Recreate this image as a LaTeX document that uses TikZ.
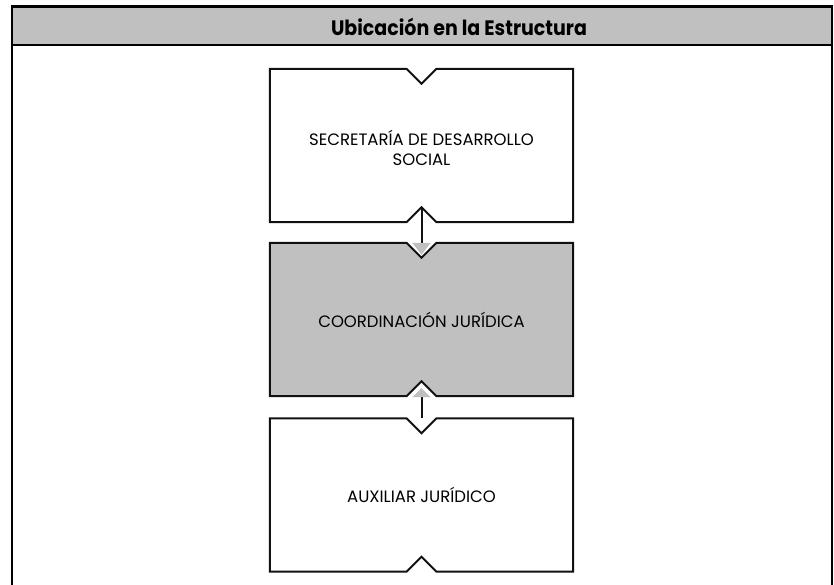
\documentclass[tikz,border=0pt]{standalone}
\usepackage{fontspec}
\setmainfont{Poppins}
\usetikzlibrary{calc,arrows.meta}
\definecolor{boxgray}{HTML}{C0C0C0}
\definecolor{linec}{HTML}{111111}
\tikzset{
  orgbox/.style={draw=none, minimum width=303pt, minimum height=153pt, inner sep=0pt, align=center, font=\fontsize{16.5}{20}\selectfont},
  notchline/.style={draw=linec, line width=2pt, line join=miter},
  conn/.style={draw=linec, line width=2pt},
  frameline/.style={draw=black, line width=2.2pt},
}
\newcommand{\notchshape}[2]{%
  \path[notchline, fill=#2]
    (#1.north west) -- ($(#1.north)+(-15,0)$) -- ($(#1.north)+(0,15)$) -- ($(#1.north)+(15,0)$)
    -- (#1.north east) -- (#1.south east) -- ($(#1.south)+(15,0)$) -- ($(#1.south)+(0,-15)$)
    -- ($(#1.south)+(-15,0)$) -- (#1.south west) -- cycle;}
\begin{document}
\begin{tikzpicture}[x=1pt,y=-1pt]
\useasboundingbox (0,0) rectangle (834,585);
\begin{scope}
\clip (0,0) rectangle (834,585);
% header
\path[fill=boxgray] (12,6.5) rectangle (832,45);
\node[font=\fontsize{19}{22}\selectfont\bfseries, yscale=1.1] (title) at (459,27) {Ubicación en la Estructura};
\draw[frameline] (12,600) -- (12,6.5) -- (832,6.5) -- (832,600);
\draw[frameline] (12,45) -- (832,45);
\end{scope}
% boxes
\node[orgbox] (a) at (421.5,145.5) {};
\node[orgbox] (b) at (421.5,319.5) {};
\node[orgbox] (c) at (421.5,495) {};
\notchshape{a}{white}
\notchshape{b}{boxgray}
\notchshape{c}{white}
\node[orgbox] (ta) at ($(a.center)+(0,2)$) {SECRETARÍA DE DESARROLLO\\SOCIAL};
\node[orgbox] (tb) at (b.center) {COORDINACIÓN JURÍDICA};
\node[orgbox] (tc) at (c.center) {AUXILIAR JURÍDICO};
% connectors
\draw[conn, -{Triangle[width=18pt,length=12pt,color=boxgray]}] ($(a.south)+(0,-15)$) -- ($(b.north)+(0,12)$);
\draw[conn, -{Triangle[width=18pt,length=9pt,color=boxgray]}] (c.north) -- ($(b.south)+(0,-8)$);
\end{tikzpicture}
\end{document}
